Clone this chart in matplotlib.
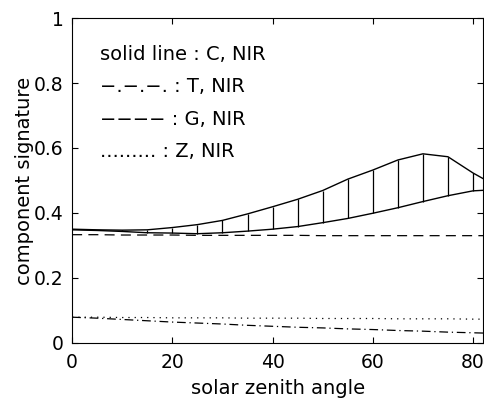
import numpy as np
import matplotlib.pyplot as plt

# solar zenith angle (deg)
angle = [0, 5, 10, 15, 20, 25, 30, 35, 40, 45, 50, 55, 60, 65, 70, 75, 80, 85]
# C, NIR : upper and lower envelope
c_upper = [0.350, 0.348, 0.347, 0.348, 0.355, 0.364, 0.377, 0.397, 0.419, 0.442,
           0.469, 0.504, 0.532, 0.563, 0.582, 0.573, 0.523, 0.480]
c_lower = [0.348, 0.346, 0.343, 0.339, 0.338, 0.336, 0.339, 0.344, 0.350, 0.358,
           0.370, 0.383, 0.399, 0.416, 0.435, 0.453, 0.468, 0.472]
# T, G, Z
t_nir = [0.079, 0.076, 0.072, 0.068, 0.064, 0.061, 0.058, 0.054, 0.051, 0.048,
         0.046, 0.043, 0.041, 0.038, 0.036, 0.033, 0.031, 0.029]
g_nir = [0.333, 0.333, 0.332, 0.332, 0.332, 0.331, 0.331, 0.331, 0.331, 0.331,
         0.330, 0.330, 0.330, 0.330, 0.330, 0.330, 0.330, 0.330]
z_nir = [0.079, 0.079, 0.078, 0.078, 0.077, 0.077, 0.077, 0.076, 0.076, 0.076,
         0.075, 0.075, 0.075, 0.074, 0.074, 0.074, 0.073, 0.073]

legend_text = ["solid line : C, NIR", "\u2212.\u2212.\u2212. : T, NIR",
               "\u2212\u2212\u2212\u2212 : G, NIR", "......... : Z, NIR"]

plt.rcParams['font.family'] = ['DejaVu Sans']

fig = plt.figure(figsize=(4.84, 4.01), dpi=100)
ax = fig.add_axes([0.149, 0.145, 0.849, 0.81])

ax.plot(angle, c_upper, 'k-', lw=1)
ax.plot(angle, c_lower, 'k-', lw=1)
ax.vlines(angle, c_lower, c_upper, colors='k', lw=0.9)
ax.plot(angle, t_nir, 'k', lw=0.9, dashes=[7, 3, 1, 3])
ax.plot(angle, g_nir, 'k', lw=0.9, dashes=[8, 5])
ax.plot(angle, z_nir, 'k', lw=0.9, dashes=[1, 4])

for i, s in enumerate(legend_text):
    ax.text(5.5, 0.887 - i * 0.099, s, fontsize=14, va='center', ha='left')

ax.set_xlim(0, 82)
ax.set_ylim(0, 1)
ax.set_xticks([0, 20, 40, 60, 80])
ax.set_yticks([0, 0.2, 0.4, 0.6, 0.8, 1])
ax.set_yticklabels(['0', '0.2', '0.4', '0.6', '0.8', '1'])
ax.tick_params(direction='in', top=True, right=True, labelsize=13.5, length=4, pad=6)
ax.tick_params(axis='x', pad=7)
ax.set_xlabel('solar zenith angle', fontsize=14, labelpad=5)
ax.set_ylabel('component signature', fontsize=14, labelpad=0)

plt.savefig('out.png', dpi=100)
